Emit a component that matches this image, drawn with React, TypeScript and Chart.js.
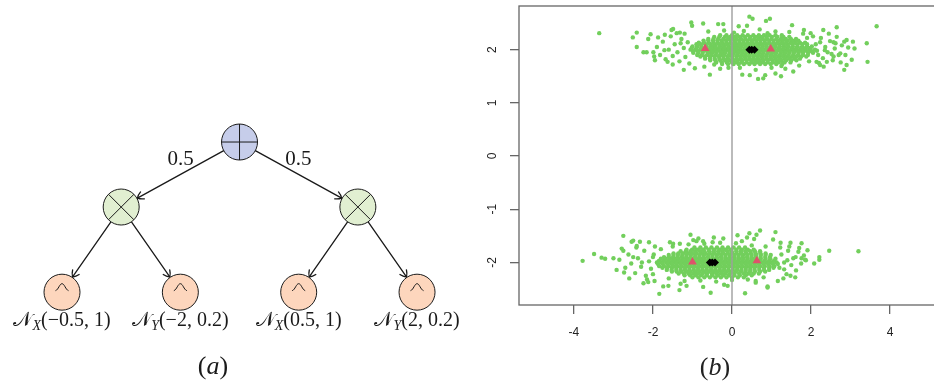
import React, { useEffect, useRef } from "react";
import { Chart, registerables } from "chart.js";
Chart.register(...registerables);

// ---------------- Panel (a): tree ----------------
const nodeKinds = ["sum", "product", "product", "leaf", "leaf", "leaf", "leaf"];
const nodeSlot = [1.5, 0.5, 2.5, 0, 1, 2, 3];
const nodeDepth = [0, 1, 1, 2.31, 2.31, 2.31, 2.31];
const edgeFrom = [0, 0, 1, 1, 2, 2];
const edgeTo = [1, 2, 3, 4, 5, 6];
const edgeWeights = ["0.5", "0.5", "", "", "", ""];
const leafVars = ["", "", "", "X", "Y", "X", "Y"];
const leafParams = ["", "", "", "(\u22120.5, 1)", "(\u22122, 0.2)", "(0.5, 1)", "(2, 0.2)"];

// ---------------- Panel (b): scatter ----------------
const xTicks = [-4, -2, 0, 2, 4];
const yTicks = [-2, -1, 0, 1, 2];
const xRange = [-5.39, 5.39];
const yRange = [-2.8, 2.82];
const zeroLineX = 0;

const upperCoreRows: [number, number[]][] = [
  [2.0, [-1.05, -0.92, -0.8, -0.69, -0.57, -0.46, -0.36, -0.24, -0.13, -0.02, 0.09, 0.2, 0.31, 0.41, 0.52, 0.63, 0.74, 0.85, 0.95, 1.06, 1.17, 1.28, 1.39, 1.5, 1.61, 1.72, 1.84, 1.96, 2.1]],
  [1.97, [-0.98, -0.86, -0.74, -0.63, -0.51, -0.41, -0.3, -0.19, -0.07, 0.04, 0.14, 0.25, 0.36, 0.47, 0.57, 0.68, 0.79, 0.9, 1.01, 1.11, 1.22, 1.33, 1.44, 1.56, 1.67, 1.78, 1.9, 2.02]],
  [2.03, [-1.02, -0.9, -0.78, -0.66, -0.55, -0.44, -0.33, -0.21, -0.1, 0.0, 0.11, 0.22, 0.33, 0.43, 0.54, 0.65, 0.76, 0.87, 0.97, 1.08, 1.19, 1.3, 1.41, 1.52, 1.63, 1.75, 1.87, 1.99]],
  [1.94, [-0.98, -0.85, -0.74, -0.6, -0.5, -0.39, -0.27, -0.17, -0.05, 0.05, 0.16, 0.27, 0.37, 0.48, 0.59, 0.7, 0.8, 0.91, 1.02, 1.12, 1.24, 1.35, 1.46, 1.57, 1.69, 1.8, 1.93, 2.05]],
  [2.06, [-1.0, -0.88, -0.77, -0.64, -0.52, -0.42, -0.3, -0.19, -0.08, 0.03, 0.13, 0.24, 0.35, 0.46, 0.56, 0.67, 0.78, 0.88, 0.99, 1.1, 1.21, 1.32, 1.43, 1.54, 1.66, 1.78, 1.9, 2.02]],
  [1.9, [-0.88, -0.76, -0.63, -0.52, -0.41, -0.3, -0.2, -0.08, 0.02, 0.13, 0.24, 0.34, 0.45, 0.56, 0.67, 0.77, 0.88, 0.99, 1.1, 1.21, 1.32, 1.43, 1.55, 1.67, 1.8, 1.92]],
  [2.1, [-0.9, -0.79, -0.67, -0.55, -0.44, -0.33, -0.22, -0.11, 0.0, 0.11, 0.21, 0.32, 0.43, 0.54, 0.65, 0.75, 0.86, 0.97, 1.08, 1.19, 1.3, 1.41, 1.53, 1.65, 1.78, 1.9]],
  [1.87, [-0.8, -0.68, -0.55, -0.44, -0.33, -0.22, -0.11, 0.0, 0.11, 0.21, 0.32, 0.43, 0.54, 0.64, 0.75, 0.86, 0.97, 1.07, 1.18, 1.29, 1.4, 1.52, 1.63, 1.75, 1.88]],
  [2.13, [-0.84, -0.71, -0.59, -0.47, -0.36, -0.25, -0.14, -0.03, 0.08, 0.19, 0.29, 0.4, 0.51, 0.62, 0.72, 0.83, 0.94, 1.05, 1.15, 1.26, 1.37, 1.49, 1.6, 1.72, 1.85]],
  [1.83, [-0.68, -0.56, -0.44, -0.32, -0.21, -0.1, 0.01, 0.12, 0.23, 0.34, 0.45, 0.55, 0.66, 0.77, 0.88, 0.99, 1.1, 1.21, 1.33, 1.45, 1.58, 1.72]],
  [2.17, [-0.72, -0.6, -0.48, -0.37, -0.26, -0.15, -0.04, 0.07, 0.18, 0.29, 0.39, 0.5, 0.61, 0.72, 0.83, 0.94, 1.05, 1.17, 1.29, 1.41, 1.54, 1.68]],
  [1.8, [-0.55, -0.42, -0.3, -0.18, -0.07, 0.04, 0.15, 0.26, 0.37, 0.48, 0.58, 0.69, 0.8, 0.91, 1.02, 1.13, 1.25, 1.37, 1.5, 1.63]],
  [2.2, [-0.6, -0.47, -0.35, -0.22, -0.1, 0.01, 0.12, 0.23, 0.34, 0.45, 0.56, 0.67, 0.78, 0.89, 1.0, 1.12, 1.24, 1.36, 1.49, 1.62]],
  [1.76, [-0.4, -0.26, -0.13, 0.0, 0.12, 0.24, 0.37, 0.5, 0.63, 0.76, 0.9, 1.04, 1.18, 1.33, 1.48]],
  [2.24, [-0.45, -0.32, -0.18, -0.05, 0.07, 0.2, 0.33, 0.46, 0.6, 0.73, 0.87, 1.01, 1.15, 1.3, 1.45]],
  [1.73, [-0.25, -0.1, 0.04, 0.17, 0.3, 0.44, 0.57, 0.71, 0.84, 0.98, 1.12, 1.27]],
  [2.27, [-0.3, -0.14, 0.0, 0.13, 0.27, 0.4, 0.54, 0.68, 0.81, 0.95, 1.1, 1.26]],
];

const upperPoints: [number, number][] = [
  [-1.9, 2.05], [-1.82, 1.9], [-1.75, 2.15], [-1.68, 1.82], [-1.6, 2.0], [-1.55, 2.25], [-1.5, 1.88], [-1.45, 2.1],
  [-1.38, 1.95], [-1.33, 1.78], [-1.28, 2.2], [-1.22, 2.03], [-1.18, 1.86], [-1.12, 2.14], [-1.08, 1.74], [-1.2, 2.3],
  [-1.5, 1.72], [-1.7, 2.28], [-1.95, 1.8], [-1.3, 2.12],
  [2.12, 2.1], [2.18, 1.9], [2.25, 2.22], [2.3, 1.84], [2.36, 2.05], [2.42, 1.95], [2.48, 2.16], [2.55, 1.8],
  [2.6, 2.02], [2.65, 2.24], [2.7, 1.9], [2.78, 2.08], [2.2, 1.75], [2.45, 2.3], [2.05, 2.25], [2.15, 1.98],
  [2.32, 1.68], [2.52, 1.92], [2.75, 1.76], [2.62, 2.12],
  [-0.6, 2.34], [-0.2, 2.36], [0.3, 2.35], [0.7, 2.38], [1.1, 2.34], [1.45, 2.33], [1.8, 2.3], [-0.7, 1.68],
  [-0.3, 1.64], [0.2, 1.66], [0.6, 1.62], [1.0, 1.66], [1.35, 1.64], [1.7, 1.7], [0.05, 2.32], [0.9, 2.31],
  [1.25, 1.69], [-0.45, 1.72], [1.9, 2.22], [1.95, 1.78],
  [-3.36, 2.31], [-2.51, 2.23], [-2.41, 2.32], [-2.41, 2.05], [-2.24, 1.95], [-2.16, 1.95], [-2.06, 2.29], [-2.12, 2.2],
  [-1.99, 1.95], [-1.97, 1.87], [-1.87, 2.23], [-1.71, 1.99], [-1.63, 1.77], [-1.53, 2.37], [-1.49, 2.39], [-1.4, 2.31],
  [-1.32, 2.32], [-1.22, 1.62], [-1.03, 2.51], [-1.01, 2.45], [-0.94, 1.65], [-0.73, 2.49], [-0.56, 1.53], [-0.35, 2.48],
  [-0.22, 2.48], [-0.09, 1.66], [0.17, 2.44], [0.26, 1.53], [0.44, 2.62], [0.52, 2.58], [0.45, 1.52], [0.38, 2.45],
  [0.66, 1.45], [0.79, 1.46], [0.84, 1.52], [0.86, 2.54], [0.96, 2.58], [1.1, 1.55], [1.24, 1.5], [1.52, 2.46],
  [1.55, 1.59], [1.82, 2.37], [1.99, 2.31], [2.31, 2.37], [2.35, 1.99], [2.4, 1.77], [2.65, 2.42], [2.57, 1.87],
  [2.84, 2.15], [2.9, 2.18], [2.94, 2.04], [3.06, 2.15], [3.1, 2.02], [2.87, 1.9], [3.03, 1.81], [2.84, 1.62],
  [2.9, 1.71], [3.41, 2.12], [3.43, 1.77], [3.66, 2.44], [2.74, 1.93], [2.57, 2.14], [2.23, 2.14], [2.14, 1.77],
  [2.23, 1.71],
];

const lowerCoreRows: [number, number[]][] = [
  [-2.0, [-1.9, -1.78, -1.66, -1.55, -1.44, -1.33, -1.22, -1.11, -1.0, -0.89, -0.78, -0.67, -0.56, -0.45, -0.34, -0.23, -0.12, -0.01, 0.1, 0.21, 0.32, 0.43, 0.54, 0.65, 0.76, 0.88, 1.0, 1.13]],
  [-1.97, [-1.85, -1.73, -1.61, -1.5, -1.39, -1.28, -1.17, -1.06, -0.95, -0.84, -0.73, -0.62, -0.51, -0.4, -0.29, -0.18, -0.07, 0.04, 0.15, 0.26, 0.37, 0.48, 0.59, 0.7, 0.82, 0.94, 1.06]],
  [-2.03, [-1.87, -1.75, -1.63, -1.52, -1.41, -1.3, -1.19, -1.08, -0.97, -0.86, -0.75, -0.64, -0.53, -0.42, -0.31, -0.2, -0.09, 0.02, 0.13, 0.24, 0.35, 0.46, 0.57, 0.68, 0.8, 0.92, 1.04, 1.16]],
  [-1.93, [-1.8, -1.68, -1.57, -1.46, -1.35, -1.24, -1.13, -1.02, -0.91, -0.8, -0.7, -0.59, -0.48, -0.37, -0.26, -0.15, -0.04, 0.07, 0.18, 0.29, 0.4, 0.51, 0.62, 0.73, 0.85, 0.97, 1.1]],
  [-2.07, [-1.84, -1.72, -1.6, -1.49, -1.38, -1.27, -1.16, -1.05, -0.94, -0.83, -0.72, -0.61, -0.5, -0.39, -0.28, -0.17, -0.06, 0.05, 0.16, 0.27, 0.38, 0.49, 0.6, 0.71, 0.83, 0.95, 1.07]],
  [-1.9, [-1.72, -1.6, -1.49, -1.38, -1.27, -1.16, -1.05, -0.94, -0.83, -0.72, -0.61, -0.5, -0.39, -0.28, -0.17, -0.06, 0.05, 0.16, 0.27, 0.38, 0.49, 0.6, 0.72, 0.84, 0.96]],
  [-2.1, [-1.76, -1.64, -1.52, -1.41, -1.3, -1.19, -1.08, -0.97, -0.86, -0.75, -0.64, -0.53, -0.42, -0.31, -0.2, -0.09, 0.02, 0.13, 0.24, 0.35, 0.46, 0.57, 0.69, 0.81, 0.94, 1.05]],
  [-1.86, [-1.6, -1.48, -1.37, -1.26, -1.15, -1.04, -0.93, -0.82, -0.71, -0.6, -0.49, -0.38, -0.27, -0.16, -0.05, 0.06, 0.17, 0.28, 0.39, 0.5, 0.61, 0.73, 0.85, 0.98]],
  [-2.14, [-1.65, -1.53, -1.41, -1.3, -1.19, -1.08, -0.97, -0.86, -0.75, -0.64, -0.53, -0.42, -0.31, -0.2, -0.09, 0.02, 0.13, 0.24, 0.35, 0.46, 0.57, 0.69, 0.81, 0.94]],
  [-1.83, [-1.48, -1.36, -1.24, -1.12, -1.01, -0.9, -0.78, -0.67, -0.56, -0.44, -0.33, -0.22, -0.1, 0.01, 0.12, 0.24, 0.36, 0.48, 0.6, 0.72, 0.85]],
  [-2.17, [-1.52, -1.4, -1.28, -1.16, -1.05, -0.93, -0.82, -0.7, -0.59, -0.47, -0.36, -0.25, -0.13, -0.02, 0.1, 0.22, 0.34, 0.46, 0.58, 0.71, 0.84]],
  [-1.79, [-1.3, -1.17, -1.05, -0.93, -0.81, -0.7, -0.58, -0.47, -0.35, -0.24, -0.12, -0.01, 0.11, 0.22, 0.34, 0.46, 0.58, 0.71]],
  [-2.21, [-1.35, -1.22, -1.1, -0.98, -0.86, -0.74, -0.63, -0.51, -0.4, -0.28, -0.17, -0.05, 0.06, 0.18, 0.3, 0.42, 0.55, 0.68]],
  [-1.76, [-1.15, -1.01, -0.87, -0.73, -0.59, -0.45, -0.31, -0.17, -0.03, 0.11, 0.25, 0.4, 0.55]],
  [-2.24, [-1.2, -1.06, -0.92, -0.78, -0.64, -0.5, -0.36, -0.22, -0.08, 0.06, 0.2, 0.35, 0.5]],
  [-1.72, [-0.95, -0.8, -0.66, -0.52, -0.38, -0.24, -0.1, 0.04, 0.18, 0.33]],
  [-2.28, [-1.0, -0.85, -0.7, -0.56, -0.42, -0.28, -0.14, 0.0, 0.15, 0.3]],
];

const lowerPoints: [number, number][] = [
  [-2.85, -1.95], [-2.7, -2.1], [-2.62, -1.85], [-2.55, -2.02], [-2.45, -2.2], [-2.38, -1.92], [-2.3, -2.08], [-2.22, -1.78],
  [-2.18, -2.25], [-2.1, -1.98], [-2.05, -2.12], [-1.98, -1.85], [-2.6, -2.3], [-2.42, -1.72], [-2.15, -2.32], [-2.75, -1.78],
  [-2.0, -2.22], [-2.28, -2.0], [-2.5, -1.9], [-1.95, -1.7],
  [1.2, -2.1], [1.25, -1.85], [1.32, -2.0], [1.38, -2.22], [1.42, -1.78], [1.5, -2.05], [1.55, -1.92], [1.62, -2.15],
  [1.68, -1.8], [1.75, -2.02], [1.3, -2.3], [1.45, -1.7], [1.6, -2.28], [1.85, -1.95], [1.22, -1.72], [1.4, -1.96],
  [-1.5, -1.7], [-1.1, -1.66], [-0.7, -1.65], [-0.3, -1.63], [0.1, -1.64], [0.5, -1.68], [0.85, -1.7], [-1.6, -2.3],
  [-1.2, -2.35], [-0.8, -2.34], [-0.4, -2.36], [0.0, -2.33], [0.4, -2.32], [0.8, -2.28], [-1.3, -2.4], [-0.2, -2.42],
  [0.25, -1.6], [-0.9, -1.6], [0.6, -2.38], [-1.8, -1.75],
  [-3.78, -1.97], [-3.49, -1.84], [-3.3, -1.91], [-3.21, -1.93], [-3.0, -1.92], [-2.92, -2.14], [-2.79, -1.74], [-2.75, -1.5],
  [-2.73, -2.19], [-2.54, -1.61], [-2.5, -1.59], [-2.41, -1.69], [-2.33, -1.61], [-2.24, -2.39], [-2.12, -2.37], [-2.1, -1.62],
  [-2.0, -1.9], [-1.96, -2.35], [-1.84, -2.59], [-1.74, -2.45], [-1.61, -2.44], [-1.57, -1.62], [-1.49, -1.65], [-1.33, -2.52],
  [-1.32, -1.65], [-1.15, -2.44], [-1.05, -1.48], [-0.98, -1.58], [-0.85, -1.55], [-0.73, -1.6], [-0.73, -2.46], [-0.54, -2.57],
  [-0.49, -1.62], [-0.46, -1.53], [-0.22, -1.55], [-0.11, -2.44], [0.14, -1.49], [0.33, -2.58], [0.38, -1.53], [0.44, -1.45],
  [0.56, -1.56], [0.62, -1.48], [0.71, -1.4], [0.6, -2.35], [0.9, -2.45], [0.9, -2.47], [1.04, -1.57], [1.1, -1.43],
  [1.23, -1.63], [1.16, -2.35], [1.32, -2.13], [1.48, -1.63], [1.48, -2.25], [1.61, -1.9], [1.7, -1.73], [1.76, -1.64],
  [1.76, -1.92], [1.82, -1.87], [1.91, -1.77], [1.87, -1.96], [2.08, -2.02], [2.21, -1.9], [2.21, -1.95], [2.46, -1.78],
  [3.2, -1.79],
];

const componentMeans: [number, number][] = [[-0.68, 2.02], [0.98, 2.01], [-1.0, -1.99], [0.63, -1.97]];
const clusterCentres: [number, number][] = [[0.44, 2.0], [0.5, 2.0], [0.57, 2.0], [-0.56, -2.0], [-0.5, -2.0], [-0.43, -2.0]];

// ---------------- helpers ----------------
const NODE_R = 18;
const INK = "#1a1a1a";
const nodeFill: Record<string, string> = { sum: "#c6cdea", product: "#e1efd1", leaf: "#fdd6bd" };
const SERIF = '"Liberation Serif", "DejaVu Serif", serif';

type Run = { text: string; font: string; dy?: number };
function drawRuns(ctx: CanvasRenderingContext2D, runs: Run[], cx: number, baseY: number) {
  let total = 0;
  const widths = runs.map((r) => {
    ctx.font = r.font;
    const w = ctx.measureText(r.text).width;
    total += w;
    return w;
  });
  let x = cx - total / 2;
  ctx.textAlign = "left";
  ctx.textBaseline = "alphabetic";
  runs.forEach((r, i) => {
    ctx.font = r.font;
    ctx.fillText(r.text, x, baseY + (r.dy || 0));
    x += widths[i];
  });
}

function drawArrow(ctx: CanvasRenderingContext2D, x1: number, y1: number, x2: number, y2: number) {
  ctx.beginPath();
  ctx.moveTo(x1, y1);
  ctx.lineTo(x2, y2);
  ctx.stroke();
  const a = Math.atan2(y2 - y1, x2 - x1);
  const L = 7;
  ctx.beginPath();
  for (const s of [-1, 1]) {
    const b = a + Math.PI + s * 0.6;
    ctx.moveTo(x2, y2);
    ctx.quadraticCurveTo(x2 + Math.cos(b + s * 0.25) * L * 0.5, y2 + Math.sin(b + s * 0.25) * L * 0.5, x2 + Math.cos(b) * L, y2 + Math.sin(b) * L);
  }
  ctx.stroke();
}

const treePlugin = {
  id: "treeDecor",
  beforeDatasetsDraw(chart: any) {
    const ctx: CanvasRenderingContext2D = chart.ctx;
    const pts = chart.getDatasetMeta(0).data;
    ctx.save();
    ctx.strokeStyle = INK;
    ctx.lineWidth = 1.3;
    ctx.lineCap = "round";
    edgeFrom.forEach((f, i) => {
      const p = pts[f], c = pts[edgeTo[i]];
      const dx = c.x - p.x, dy = c.y - p.y;
      const len = Math.hypot(dx, dy);
      const ux = dx / len, uy = dy / len;
      const sx = p.x + ux * NODE_R, sy = p.y + uy * NODE_R;
      const ex = c.x - ux * (NODE_R + 0.5), ey = c.y - uy * (NODE_R + 0.5);
      drawArrow(ctx, sx, sy, ex, ey);
      if (edgeWeights[i]) {
        ctx.fillStyle = INK;
        drawRuns(ctx, [{ text: edgeWeights[i], font: `21px ${SERIF}` }], (sx + ex) / 2, (sy + ey) / 2 - 9);
      }
    });
    ctx.restore();
  },
  afterDatasetsDraw(chart: any) {
    const ctx: CanvasRenderingContext2D = chart.ctx;
    const pts = chart.getDatasetMeta(0).data;
    ctx.save();
    ctx.strokeStyle = INK;
    ctx.fillStyle = INK;
    ctx.lineWidth = 1;
    nodeKinds.forEach((k, i) => {
      const { x, y } = pts[i];
      ctx.beginPath();
      if (k === "sum") {
        ctx.moveTo(x - NODE_R, y); ctx.lineTo(x + NODE_R, y);
        ctx.moveTo(x, y - NODE_R); ctx.lineTo(x, y + NODE_R);
      } else if (k === "product") {
        const d = NODE_R * Math.SQRT1_2;
        ctx.moveTo(x - d, y - d); ctx.lineTo(x + d, y + d);
        ctx.moveTo(x + d, y - d); ctx.lineTo(x - d, y + d);
      } else {
        ctx.moveTo(x - 6.5, y - 1.5);
        ctx.bezierCurveTo(x - 3.5, y - 2.5, x - 2.5, y - 8.5, x, y - 8.5);
        ctx.bezierCurveTo(x + 2.5, y - 8.5, x + 3.5, y - 2.5, x + 6.5, y - 1.5);
      }
      ctx.stroke();
      if (k === "leaf") {
        drawRuns(ctx, [
          { text: "\u{1D4A9}", font: `20px ${SERIF}` },
          { text: leafVars[i], font: `italic 14px ${SERIF}`, dy: 4 },
          { text: leafParams[i], font: `20px ${SERIF}` },
        ], x, y + 34);
      }
    });
    drawRuns(ctx, [
      { text: "(", font: `26px ${SERIF}` },
      { text: "a", font: `italic 26px ${SERIF}` },
      { text: ")", font: `26px ${SERIF}` },
    ], 213, 374);
    ctx.restore();
  },
};

const scatterPlugin = {
  id: "scatterDecor",
  afterDraw(chart: any) {
    const ctx: CanvasRenderingContext2D = chart.ctx;
    const { left, top, right, bottom } = chart.chartArea;
    const ys = chart.scales.y;
    ctx.save();
    ctx.strokeStyle = "#666";
    ctx.lineWidth = 1.3;
    ctx.strokeRect(left, top, right - left, bottom - top);
    ctx.fillStyle = "#222";
    ctx.font = '12px "Liberation Sans", Arial, sans-serif';
    ctx.textAlign = "center";
    ctx.textBaseline = "middle";
    yTicks.forEach((v) => {
      const py = ys.getPixelForValue(v);
      ctx.save();
      ctx.translate(left - 26, py);
      ctx.rotate(-Math.PI / 2);
      ctx.fillText(String(v), 0, 0);
      ctx.restore();
    });
    drawRuns(ctx, [
      { text: "(", font: `26px ${SERIF}` },
      { text: "b", font: `italic 26px ${SERIF}` },
      { text: ")", font: `26px ${SERIF}` },
    ], 235, 375);
    ctx.restore();
  },
};

function flattenRows(rows: [number, number[]][]) {
  const out: { x: number; y: number }[] = [];
  rows.forEach(([y, xs]) => xs.forEach((x) => out.push({ x, y })));
  return out;
}

function TreeChart() {
  const ref = useRef<HTMLCanvasElement>(null);
  useEffect(() => {
    const chart = new Chart(ref.current!, {
      type: "scatter",
      data: {
        datasets: [
          {
            data: nodeSlot.map((s, i) => ({ x: s, y: nodeDepth[i] })),
            pointRadius: NODE_R,
            pointHoverRadius: NODE_R,
            backgroundColor: nodeKinds.map((k) => nodeFill[k]),
            borderColor: INK,
            borderWidth: 1,
            clip: false,
          },
        ],
      },
      options: {
        animation: false,
        responsive: false,
        devicePixelRatio: 1,
        events: [],
        layout: { padding: 0, autoPadding: false },
        plugins: { legend: { display: false }, tooltip: { enabled: false } },
        scales: {
          x: { type: "linear", display: false, min: -0.524, max: 3.532 },
          y: { type: "linear", display: false, reverse: true, min: -2.185, max: 3.738 },
        },
      },
      plugins: [treePlugin],
    } as any);
    return () => chart.destroy();
  }, []);
  return <canvas ref={ref} width={480} height={385} style={{ position: "absolute", left: 0, top: 0 }} />;
}

function ScatterChart() {
  const ref = useRef<HTMLCanvasElement>(null);
  useEffect(() => {
    const green = [
      ...flattenRows(upperCoreRows),
      ...upperPoints.map(([x, y]) => ({ x, y })),
      ...flattenRows(lowerCoreRows),
      ...lowerPoints.map(([x, y]) => ({ x, y })),
    ];
    const chart = new Chart(ref.current!, {
      type: "scatter",
      data: {
        datasets: [
          { data: green, pointRadius: 2.2, pointHoverRadius: 2.2, backgroundColor: "#72cf5c", borderWidth: 0, order: 4 },
          {
            data: [{ x: zeroLineX, y: yRange[0] }, { x: zeroLineX, y: yRange[1] }],
            showLine: true, pointRadius: 0, borderColor: "#9e9e9e", borderWidth: 1.4, order: 3,
          },
          { data: componentMeans.map(([x, y]) => ({ x, y })), pointStyle: "triangle", pointRadius: 5, backgroundColor: "#DF536B", borderColor: "#DF536B", borderWidth: 0, order: 2 },
          { data: clusterCentres.map(([x, y]) => ({ x, y })), pointStyle: "rectRot", pointRadius: 4, backgroundColor: "#000", borderColor: "#000", borderWidth: 0, order: 1 },
        ],
      },
      options: {
        animation: false,
        responsive: false,
        devicePixelRatio: 1,
        events: [],
        layout: { padding: { top: 6, right: 5, left: 0, bottom: 0 }, autoPadding: false },
        plugins: { legend: { display: false }, tooltip: { enabled: false } },
        scales: {
          x: {
            type: "linear", min: xRange[0], max: xRange[1],
            afterBuildTicks: (s: any) => { s.ticks = xTicks.map((v) => ({ value: v })); },
            afterFit: (s: any) => { s.height = 80; },
            grid: { drawOnChartArea: false, drawTicks: true, tickLength: 9, color: "#666", lineWidth: 1.3 },
            border: { display: false },
            ticks: { color: "#222", padding: 11, font: { family: '"Liberation Sans", Arial, sans-serif', size: 12 }, maxRotation: 0, autoSkip: false },
          },
          y: {
            type: "linear", min: yRange[0], max: yRange[1],
            afterBuildTicks: (s: any) => { s.ticks = yTicks.map((v) => ({ value: v })); },
            afterFit: (s: any) => { s.width = 39; },
            grid: { drawOnChartArea: false, drawTicks: true, tickLength: 9, color: "#666", lineWidth: 1.3 },
            border: { display: false },
            ticks: { display: false },
          },
        },
      },
      plugins: [scatterPlugin],
    } as any);
    return () => chart.destroy();
  }, []);
  return (
    <div style={{ position: "absolute", left: 480, top: 0, width: 454, height: 385, overflow: "hidden" }}>
      <canvas ref={ref} width={470} height={385} style={{ position: "absolute", left: 0, top: 0 }} />
    </div>
  );
}

export default function App() {
  return (
    <div style={{ position: "fixed", left: 0, top: 0, width: 934, height: 385, background: "#fff", overflow: "hidden" }}>
      <TreeChart />
      <ScatterChart />
    </div>
  );
}
